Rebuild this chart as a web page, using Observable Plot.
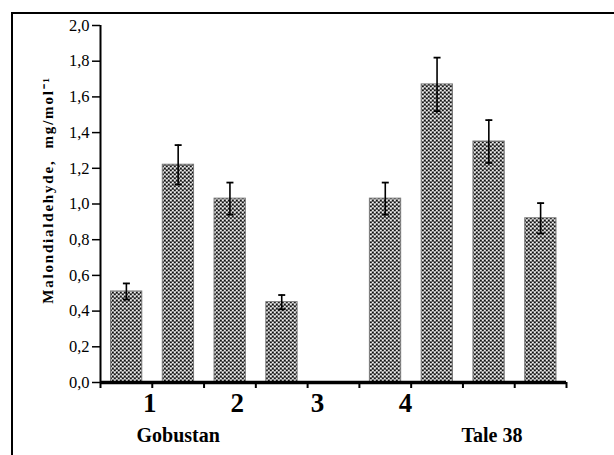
<!DOCTYPE html>
<html>
<head>
<meta charset="utf-8">
<script src="https://cdn.jsdelivr.net/npm/d3@7"></script>
<script src="https://cdn.jsdelivr.net/npm/@observablehq/plot@0.6"></script>
<style>
  html, body { margin: 0; padding: 0; background: #fff; }
  #wrap { position: relative; width: 614px; height: 455px; overflow: hidden; }
  #border { position: absolute; left: 11px; top: 12px; width: 700px; height: 600px;
            border-top: 2.5px solid #000; border-left: 2px solid #000; box-sizing: border-box; }
  #chart { position: absolute; left: 0; top: 0; }
  #chart svg text { font-family: 'Liberation Serif', 'Times New Roman', serif; }
</style>
</head>
<body>
<div id="wrap"><div id="border"></div><div id="chart"></div></div>
<script>
// Data
const positions = [1, 2, 3, 4, 5, 6, 7, 8, 9];
const values    = [0.51, 1.22, 1.03, 0.45, null, 1.03, 1.67, 1.35, 0.92];
const errors    = [0.045, 0.11, 0.09, 0.04, null, 0.09, 0.15, 0.12, 0.085];
const yTicks    = [0, 0.2, 0.4, 0.6, 0.8, 1.0, 1.2, 1.4, 1.6, 1.8, 2.0];
const xBoundaries = [0.5, 1.5, 2.5, 3.5, 4.5, 5.5, 6.5, 7.5, 8.5, 9.5];
const numberLabels = ["1", "2", "3", "4"];
const numberPos    = [1.45, 3.14, 4.69, 6.39];
const groupLabels  = ["Gobustan", "Tale 38"];
const groupPos     = [2.0, 8.06];
const yLabel = "Malondialdehyde,  mg/mol\u207B\u00B9";

const bars = positions.map((p, i) => ({p, v: values[i], e: errors[i]})).filter(d => d.v != null);
const nums = numberLabels.map((t, i) => ({t, x: numberPos[i]}));
const groups = groupLabels.map((t, i) => ({t, x: groupPos[i]}));

const hline = {draw(ctx, size) { const w = 3.5; ctx.moveTo(-w, 0); ctx.lineTo(w, 0); }};

const serif = "'Liberation Serif', 'Times New Roman', serif";

const plot = Plot.plot({
  width: 614,
  height: 455,
  marginLeft: 100,
  marginRight: 48,
  marginTop: 25,
  marginBottom: 73,
  style: {fontFamily: serif, background: "transparent", overflow: "visible"},
  x: {domain: [0.5, 9.5], axis: null},
  y: {domain: [0, 2], axis: null},
  marks: [
    Plot.rectY(bars, {x1: d => d.p - 0.5, x2: d => d.p + 0.5, y1: 0, y2: "v",
      insetLeft: 10.5, insetRight: 10, fill: "#999", stroke: "#7a7a7a", strokeWidth: 1, className: "patbar"}),
    Plot.ruleX(bars, {x: "p", y1: d => d.v - d.e, y2: d => d.v + d.e, stroke: "#000", strokeWidth: 1.6}),
    Plot.dot(bars, {x: "p", y: d => d.v + d.e, symbol: hline, r: 4, stroke: "#000", strokeWidth: 1.8, fill: "none"}),
    Plot.dot(bars, {x: "p", y: d => d.v - d.e, symbol: hline, r: 4, stroke: "#000", strokeWidth: 1.8, fill: "none"}),
    Plot.axisY({ticks: yTicks, tickFormat: d => d3.format(".1f")(d).replace(".", ","),
      tickSize: 8, tickPadding: 3, fontSize: 16.5, fontFamily: serif, label: null, stroke: "#000", strokeWidth: 1.5, color: "#000"}),
    Plot.ruleX([0.5], {y1: 0, y2: 2, stroke: "#000", strokeWidth: 2}),
    Plot.axisX({ticks: xBoundaries, tickFormat: () => "", tickSize: 6, label: null, stroke: "#000", strokeWidth: 2}),
    Plot.ruleY([0], {x1: 0.5, x2: 9.5, stroke: "#000", strokeWidth: 3.5}),
    Plot.text(nums, {x: "x", text: "t", frameAnchor: "bottom", lineAnchor: "bottom", dy: 29,
      fontSize: 27, fontWeight: "bold", fontFamily: serif, fill: "#000"}),
    Plot.text(groups, {x: "x", text: "t", frameAnchor: "bottom", lineAnchor: "bottom", dy: 59,
      fontSize: 20, fontWeight: "bold", fontFamily: serif, fill: "#000"}),
    Plot.text([yLabel], {frameAnchor: "left", textAnchor: "middle", lineAnchor: "middle", dx: -52, dy: -14, rotate: -90, text: d => d,
      fontSize: 15, fontWeight: "bold", fontFamily: serif, fill: "#000"})
  ]
});

// checkered pattern fill for bars
const svg = plot.tagName.toLowerCase() === "svg" ? plot : plot.querySelector("svg");
const ns = "http://www.w3.org/2000/svg";
const defs = document.createElementNS(ns, "defs");
const pat = document.createElementNS(ns, "pattern");
pat.setAttribute("id", "chk");
pat.setAttribute("patternUnits", "userSpaceOnUse");
pat.setAttribute("width", 4);
pat.setAttribute("height", 4);
const cells = [
  [0,0,4,4,"#858585"],
  [0,0,1,1,"#111"],[2,0,1,1,"#eeeeee"],[0,2,1,1,"#eeeeee"],[2,2,1,1,"#111"],
  [1,0,1,1,"#3c3c3c"],[3,2,1,1,"#3c3c3c"],[1,2,1,1,"#c4c4c4"],[3,0,1,1,"#c4c4c4"],
  [0,1,4,1,"#666"],[2,3,2,1,"#b0b0b0"]
];
for (const [x, y, w, h, c] of cells) {
  const r = document.createElementNS(ns, "rect");
  r.setAttribute("x", x); r.setAttribute("y", y); r.setAttribute("width", w); r.setAttribute("height", h);
  r.setAttribute("fill", c);
  pat.appendChild(r);
}
defs.appendChild(pat);
svg.insertBefore(defs, svg.firstChild);
svg.querySelectorAll(".patbar rect").forEach(r => r.setAttribute("fill", "url(#chk)"));
svg.querySelectorAll("text").forEach(t => { if (t.textContent.startsWith("Malond")) t.setAttribute("letter-spacing", "1.8"); });

document.getElementById("chart").appendChild(plot);
</script>
</body>
</html>
